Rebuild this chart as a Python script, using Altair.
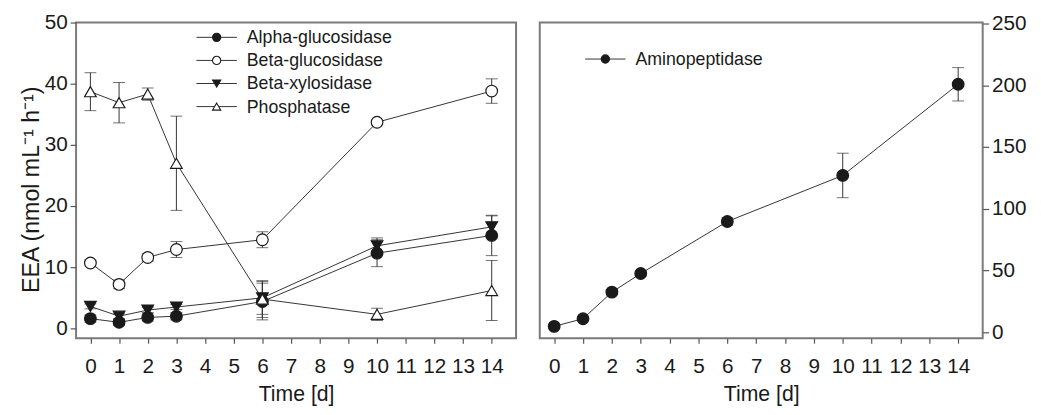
import altair as alt
import pandas as pd

# ---- data ----
days = [0, 1, 2, 3, 6, 10, 14]

alpha = [1.6, 1.0, 1.8, 2.0, 4.4, 12.3, 15.2]
alpha_err = [0.6, 0.5, 0.6, 0.6, 3.0, 2.2, 3.3]
beta_g = [10.7, 7.2, 11.6, 12.9, 14.5, 33.7, 38.8]
beta_g_err = [0.5, 0.7, 0.6, 1.3, 1.3, 0.3, 2.0]
beta_x = [3.6, 2.0, 3.0, 3.5, 5.0, 13.5, 16.6]
beta_x_err = [0.4, 0.4, 0.4, 0.4, 2.7, 1.3, 1.8]
phos = [38.7, 36.9, 38.3, 27.0, 4.8, 2.3, 6.2]
phos_err = [3.1, 3.3, 1.0, 7.7, 3.0, 1.0, 4.9]

amino = [4.8, 11.0, 32.5, 47.6, 89.7, 127.0, 200.8]
amino_err = [1.0, 1.5, 2.0, 2.0, 3.0, 18.0, 13.5]

x_ticks = list(range(0, 15))
left_y_ticks = [0, 10, 20, 30, 40, 50]
right_y_ticks = [0, 50, 100, 150, 200, 250]

left_series = [
    ("Alpha-glucosidase", alpha, alpha_err, "circle", True),
    ("Beta-glucosidase", beta_g, beta_g_err, "circle", False),
    ("Beta-xylosidase", beta_x, beta_x_err, "triangle-down", True),
    ("Phosphatase", phos, phos_err, "triangle-up", False),
]
right_series = [
    ("Aminopeptidase", amino, amino_err, "circle", True),
]

FONT = "Liberation Sans"
INK = "#1a1a1a"
AX = "#7a7a7a"
TICK = "#555555"
H = 320
VIEW = alt.ViewBackground(stroke=AX, strokeWidth=2, fill="white")


def series_layers(name, vals, errs, shape, filled, xsc, ysc, xax, yax):
    df = pd.DataFrame({"day": days, "v": vals, "e": errs})
    df["lo"] = df["v"] - df["e"]
    df["hi"] = df["v"] + df["e"]
    base = alt.Chart(df)
    X = alt.X("day:Q", scale=xsc, axis=xax)
    line = base.mark_line(color="#333333", strokeWidth=1).encode(
        x=X, y=alt.Y("v:Q", scale=ysc, axis=yax))
    rule = base.mark_rule(color="#333333", strokeWidth=1).encode(
        x=X, y=alt.Y("lo:Q", scale=ysc, axis=yax), y2="hi:Q")
    cap_lo = base.mark_tick(orient="horizontal", size=12, thickness=1, color="#333333").encode(
        x=X, y=alt.Y("lo:Q", scale=ysc, axis=yax))
    cap_hi = base.mark_tick(orient="horizontal", size=12, thickness=1, color="#333333").encode(
        x=X, y=alt.Y("hi:Q", scale=ysc, axis=yax))
    pts = base.mark_point(shape=shape, size=140, filled=True,
                          fill=INK if filled else "white", stroke=INK,
                          strokeWidth=1.2, opacity=1).encode(
        x=X, y=alt.Y("v:Q", scale=ysc, axis=yax))
    return [line, rule, cap_lo, cap_hi], pts


def legend_layers(series, x0, y0, dy):
    out = []
    for i, (name, _, _, shape, filled) in enumerate(series):
        d = pd.DataFrame({"label": [name]})
        b = alt.Chart(d)
        yy = y0 + i * dy
        out.append(b.mark_rule(color="#333333", strokeWidth=1).encode(
            x=alt.value(x0), x2=alt.value(x0 + 41), y=alt.value(yy)))
        out.append(b.mark_point(shape=shape, size=70, filled=True,
                                fill=INK if filled else "white", stroke=INK,
                                strokeWidth=1.1, opacity=1).encode(
            x=alt.value(x0 + 20.5), y=alt.value(yy)))
        out.append(b.mark_text(align="left", baseline="middle", font=FONT,
                               fontSize=18, color=INK).encode(
            x=alt.value(x0 + 51), y=alt.value(yy + 1), text="label:N"))
    return out


xscale = alt.Scale(domain=[-0.5, 14.85], nice=False, zero=False)
x_axis = alt.Axis(values=x_ticks, title="Time [d]", grid=False, domain=False,
                  tickSize=5, tickColor=TICK, tickWidth=1.2, labelPadding=13, labelFontSize=21,
                  labelOverlap=False, labelFlush=False,
                  titleFontSize=21.5, titleFontWeight="normal", titlePadding=7,
                  labelFont=FONT, titleFont=FONT, labelColor=INK, titleColor=INK)

# ---- left panel ----
lscale = alt.Scale(domain=[-1.6, 50], nice=False, zero=False)
ly_axis = alt.Axis(
    values=left_y_ticks, title="EEA (nmol mL\u207b\u00b9 h\u207b\u00b9)", grid=False,
    domain=False, tickSize=6, tickColor=TICK, tickWidth=1.2, labelPadding=3, labelFontSize=21,
    labelOverlap=False, labelFlush=False,
    titleFontSize=23.5, titleFontWeight="normal", titlePadding=1, titleY=169,
    labelFont=FONT, titleFont=FONT, labelColor=INK, titleColor=INK)
lower, upper = [], []
for s in left_series:
    lo, pt = series_layers(*s, xscale, lscale, x_axis, ly_axis)
    lower += lo
    upper.append(pt)

left = alt.layer(*lower, *upper, *legend_layers(left_series, 122, 15, 23.4)).properties(
    width=446, height=H, view=VIEW)

# ---- right panel ----
rscale = alt.Scale(domain=[-4.8, 250.8], nice=False, zero=False)
ry_axis = alt.Axis(
    orient="right", values=right_y_ticks, title=None, grid=False, domain=False,
    tickSize=6, tickColor=TICK, tickWidth=1.2, labelPadding=3, labelFontSize=21,
    labelOverlap=False, labelFlush=False,
    labelFont=FONT, labelColor=INK)
lower, upper = [], []
for s in right_series:
    lo, pt = series_layers(*s, xscale, rscale, x_axis, ry_axis)
    lower += lo
    upper.append(pt)

right = alt.layer(*lower, *upper, *legend_layers(right_series, 46, 37, 23.4)).properties(
    width=449, height=H, view=VIEW)

chart = alt.hconcat(left, right, spacing=22).properties(
    padding={"left": 10, "top": 0, "right": 5, "bottom": 0}
).configure_view(stroke=AX, strokeWidth=2).configure(background="white")

chart.save("out.html", embed_options={"renderer": "svg", "actions": False})
